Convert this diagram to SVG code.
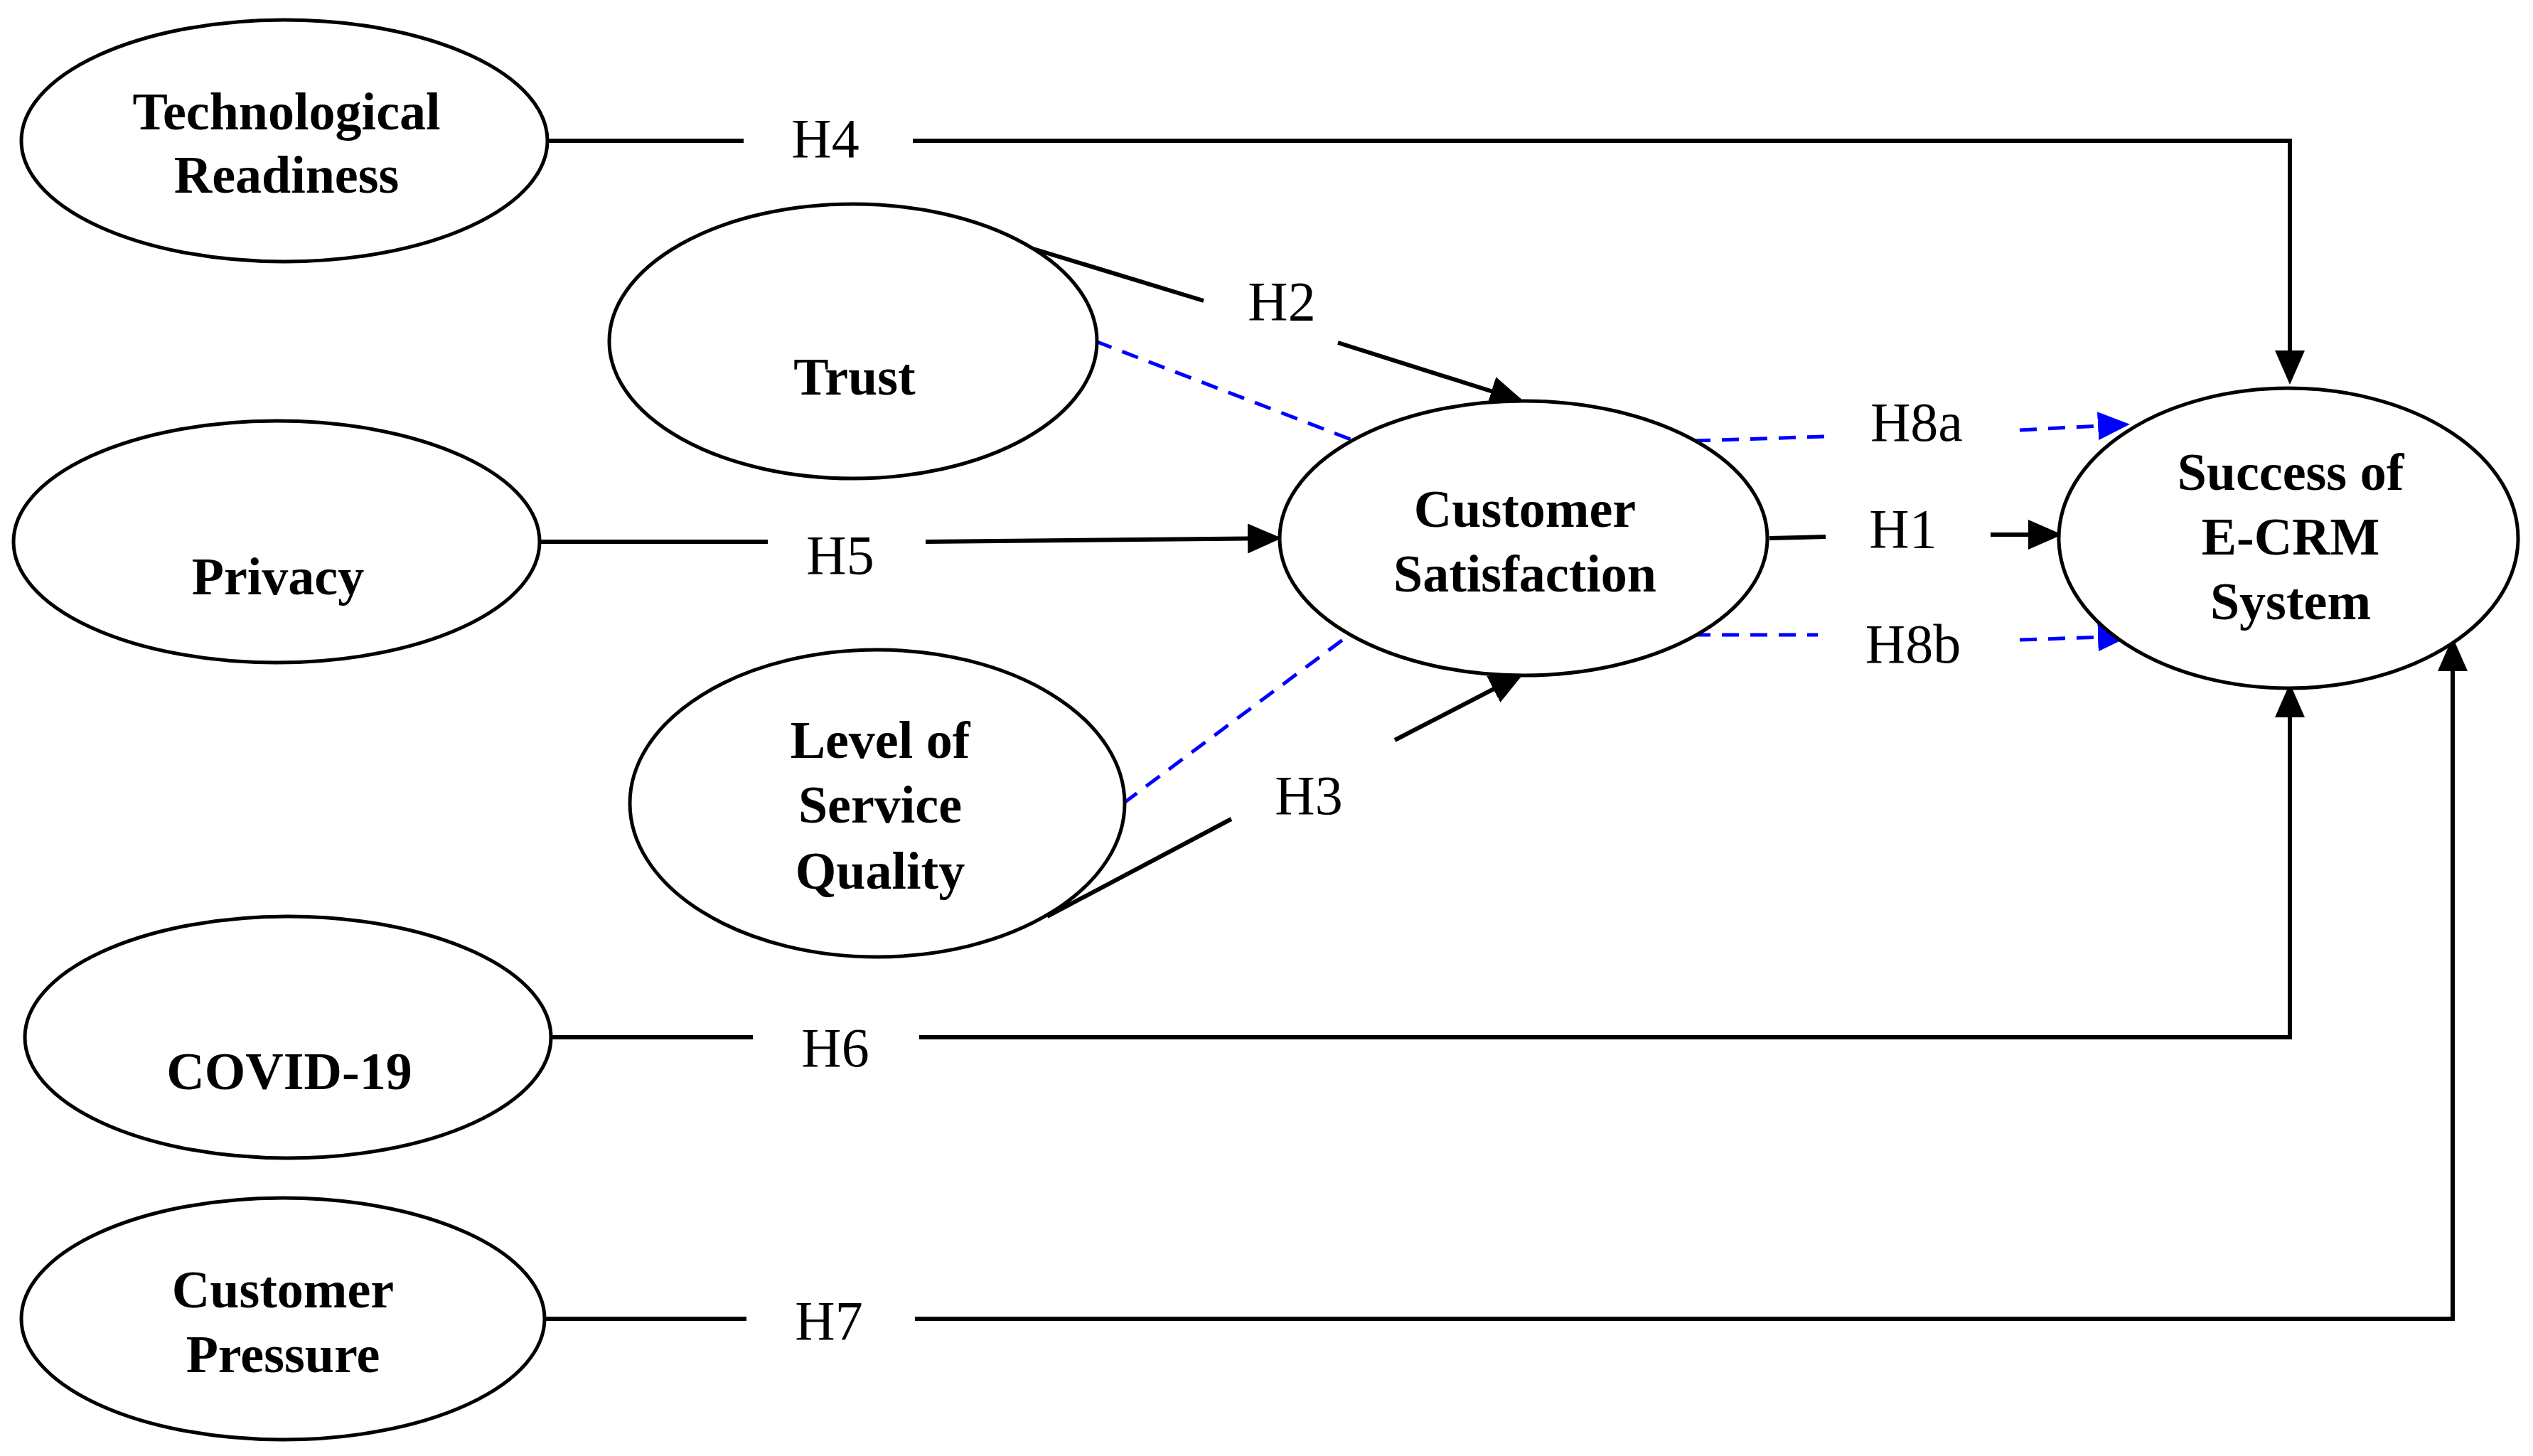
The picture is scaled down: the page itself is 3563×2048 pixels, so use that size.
<svg xmlns="http://www.w3.org/2000/svg" width="3563" height="2048" viewBox="0 0 3563 2048">
<style>
.n{fill:#fff;stroke:#000;stroke-width:5}
.t{font-family:"Liberation Serif",serif;font-weight:bold;font-size:74px;text-anchor:middle;dominant-baseline:central}
.h{font-family:"Liberation Serif",serif;font-size:78px;text-anchor:middle;dominant-baseline:central}
.k{fill:none;stroke:#000;stroke-width:6}
.b{fill:none;stroke:#00f;stroke-width:5;stroke-dasharray:24 16}
</style>
<defs>
<marker id="ak" markerWidth="8" markerHeight="8" refX="7" refY="4" orient="auto" markerUnits="strokeWidth"><path d="M0,0.5L8,4L0,7.5z" fill="#000"/></marker>
<marker id="ab" markerWidth="9" markerHeight="9" refX="8" refY="4.5" orient="auto" markerUnits="strokeWidth"><path d="M0,0.5L9,4.5L0,8.5z" fill="#00f"/></marker>
</defs>
<rect width="3563" height="2048" fill="#fff"/>
<g id="connectors">
<path class="k" d="M770,198H1046M1284,198H3221V535" marker-end="url(#ak)"/>
<path class="k" d="M1437,345L1693,423"/><path class="k" d="M1882,482L2138,563" marker-end="url(#ak)"/>
<path class="b" d="M1541,480L1905,620"/>
<path class="k" d="M757,762H1080"/><path class="k" d="M1302,762L1797,757" marker-end="url(#ak)"/>
<path class="b" d="M2382,620L2568,614"/><path class="b" d="M2841,605L2991,597" marker-end="url(#ab)"/>
<path class="k" d="M2489,757L2568,755"/><path class="k" d="M2800,752H2895" marker-end="url(#ak)"/>
<path class="b" d="M2382,893H2557"/><path class="b" d="M2841,900L2991,895" marker-end="url(#ab)"/>
<path class="b" d="M1580,1130L1898,893"/>
<path class="k" d="M1473,1289L1732,1152"/><path class="k" d="M1962,1041L2138,950" marker-end="url(#ak)"/>
<path class="k" d="M775,1459H1059M1293,1459H3221V967" marker-end="url(#ak)"/>
<path class="k" d="M768,1855H1050M1287,1855H3450V902" marker-end="url(#ak)"/>
<text class="h" x="1161" y="194">H4</text>
<text class="h" x="1803" y="423">H2</text>
<text class="h" x="1182" y="780">H5</text>
<text class="h" x="2696" y="593">H8a</text>
<text class="h" x="2677" y="743">H1</text>
<text class="h" x="2691" y="905">H8b</text>
<text class="h" x="1841" y="1118">H3</text>
<text class="h" x="1175" y="1473">H6</text>
<text class="h" x="1166" y="1857">H7</text>
</g>
<g id="tech"><ellipse class="n" cx="400" cy="198" rx="370" ry="170"/><text class="t" x="403" y="157">Technological</text><text class="t" x="403" y="246">Readiness</text></g>
<g id="trust"><ellipse class="n" cx="1200" cy="480" rx="343" ry="193"/><text class="t" x="1202" y="530">Trust</text></g>
<g id="privacy"><ellipse class="n" cx="389" cy="762" rx="370" ry="170"/><text class="t" x="391" y="811">Privacy</text></g>
<g id="satisfaction"><ellipse class="n" cx="2143" cy="757" rx="343" ry="193"/><text class="t" x="2145" y="716">Customer</text><text class="t" x="2145" y="807">Satisfaction</text></g>
<g id="quality"><ellipse class="n" cx="1234" cy="1130" rx="348" ry="216"/><text class="t" x="1238" y="1041">Level of</text><text class="t" x="1238" y="1132">Service</text><text class="t" x="1238" y="1225">Quality</text></g>
<g id="success"><ellipse class="n" cx="3219" cy="757" rx="323" ry="211"/><text class="t" x="3222" y="664">Success of</text><text class="t" x="3222" y="755">E-CRM</text><text class="t" x="3222" y="846">System</text></g>
<g id="covid"><ellipse class="n" cx="405" cy="1459" rx="370" ry="170"/><text class="t" x="407" y="1507">COVID-19</text></g>
<g id="pressure"><ellipse class="n" cx="398" cy="1855" rx="368" ry="170"/><text class="t" x="398" y="1814">Customer</text><text class="t" x="398" y="1905">Pressure</text></g>
</svg>
